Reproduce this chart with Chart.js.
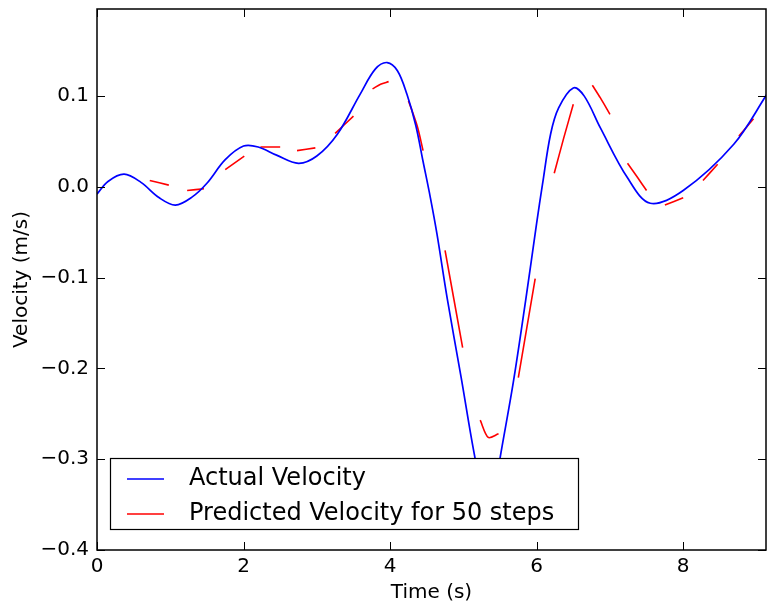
<!DOCTYPE html>
<html>
<head>
<meta charset="utf-8">
<script src="https://cdn.jsdelivr.net/npm/chart.js@4.4.1/dist/chart.umd.min.js"></script>
<style>
  html, body { margin: 0; padding: 0; background: #fff; }
  #wrap { width: 767px; height: 605px; position: relative; }
</style>
</head>
<body>
<div id="wrap"><canvas id="c" width="767" height="605"></canvas></div>
<script>
// ---- data ----
const actualTime = [0, 0.15, 0.37, 0.6, 0.85, 1.07, 1.3, 1.5, 1.75, 2.0, 2.2, 2.45, 2.75, 3.0, 3.28, 3.59, 3.8, 3.96, 4.1, 4.23, 4.35, 4.45, 4.55, 4.64, 4.78, 4.97, 5.16, 5.27, 5.35, 5.43, 5.5, 5.68, 5.85, 6.0, 6.08, 6.19, 6.3, 6.5, 6.65, 6.87, 7.24, 7.55, 8.0, 8.69, 9.15];
const actualVelocity = [-0.008, 0.006, 0.014, 0.005, -0.012, -0.020, -0.011, 0.004, 0.030, 0.045, 0.044, 0.035, 0.026, 0.034, 0.058, 0.102, 0.130, 0.137, 0.128, 0.102, 0.068, 0.028, -0.012, -0.052, -0.123, -0.210, -0.299, -0.335, -0.345, -0.335, -0.299, -0.216, -0.125, -0.040, 0.003, 0.058, 0.087, 0.109, 0.100, 0.065, 0.010, -0.018, -0.004, 0.047, 0.103];

// predicted: null values mark the gaps between predicted segments
const predictedTime = [0.72, 0.98, 1.1, 1.23, 1.46, 1.6, 1.75, 2.01, 2.12, 2.23, 2.50, 2.6, 2.73, 2.98, 3.1, 3.25, 3.50, 3.6, 3.76, 3.87, 3.98, 4.1, 4.25, 4.37, 4.45, 4.6, 4.75, 4.99, 5.1, 5.23, 5.34, 5.48, 5.6, 5.75, 5.98, 6.1, 6.24, 6.37, 6.50, 6.6, 6.76, 6.87, 7.00, 7.1, 7.24, 7.38, 7.50, 7.6, 7.75, 8.00, 8.1, 8.27, 8.47, 8.6, 8.76, 8.96];
const predictedVelocity = [0.007, 0.002, null, -0.004, -0.002, null, 0.019, 0.034, null, 0.044, 0.044, null, 0.040, 0.043, null, 0.059, 0.078, null, 0.108, 0.113, 0.116, null, 0.095, 0.067, 0.040, null, -0.070, -0.177, null, -0.257, -0.276, -0.272, null, -0.210, -0.101, null, 0.015, 0.054, 0.091, null, 0.112, 0.098, 0.080, null, 0.026, 0.010, -0.004, null, -0.020, -0.012, null, 0.007, 0.025, null, 0.056, 0.075];

const xTicks = [0, 2, 4, 6, 8];
const yTicks = [-0.4, -0.3, -0.2, -0.1, 0.0, 0.1];
const seriesLabels = ['Actual Velocity', 'Predicted Velocity for 50 steps'];
const xTitle = 'Time (s)';
const yTitle = 'Velocity (m/s)';

const toXY = (xs, ys) => xs.map((x, i) => ({ x: x, y: ys[i] }));
const fmtY = v => (v < 0 ? '\u2212' : '') + Math.abs(v).toFixed(1);

Chart.defaults.font.family = '"DejaVu Sans", sans-serif';
Chart.defaults.color = '#000';

const framePlugin = {
  id: 'frameAndLegend',
  afterDatasetsDraw(chart) {
    const { ctx, chartArea: a, scales } = chart;
    const xs = scales.x, ys = scales.y;
    ctx.save();
    // legend box (inside plot, lower left)
    const lx = 110, ly = 458, lw = 468, lh = 71;
    ctx.fillStyle = '#fff';
    ctx.fillRect(lx, ly, lw, lh);
    ctx.strokeStyle = '#000';
    ctx.lineWidth = 1.2;
    ctx.strokeRect(lx + 0.5, ly + 0.5, lw, lh);
    const rows = [
      { y: 479, color: chart.data.datasets[0].borderColor, text: chart.data.datasets[0].label },
      { y: 514, color: chart.data.datasets[1].borderColor, text: chart.data.datasets[1].label }
    ];
    ctx.font = '24px "DejaVu Sans", sans-serif';
    ctx.textBaseline = 'middle';
    ctx.textAlign = 'left';
    rows.forEach(r => {
      ctx.strokeStyle = r.color;
      ctx.lineWidth = 1.6;
      ctx.beginPath();
      ctx.moveTo(127, r.y);
      ctx.lineTo(164, r.y);
      ctx.stroke();
      ctx.fillStyle = '#000';
      ctx.fillText(r.text, 189, r.y);
    });
    // plot frame
    ctx.strokeStyle = '#000';
    ctx.lineWidth = 1.5;
    ctx.strokeRect(a.left, a.top, a.right - a.left, a.bottom - a.top);
    // inward tick marks on all four sides
    const tl = 8;
    ctx.lineWidth = 1;
    ctx.beginPath();
    xTicks.forEach(v => {
      const px = Math.round(xs.getPixelForValue(v)) + 0.5;
      if (px < a.left - 1 || px > a.right + 1) return;
      ctx.moveTo(px, a.bottom); ctx.lineTo(px, a.bottom - tl);
      ctx.moveTo(px, a.top); ctx.lineTo(px, a.top + tl);
    });
    yTicks.forEach(v => {
      const py = Math.round(ys.getPixelForValue(v)) + 0.5;
      ctx.moveTo(a.left, py); ctx.lineTo(a.left + tl, py);
      ctx.moveTo(a.right, py); ctx.lineTo(a.right - tl, py);
    });
    ctx.stroke();
    ctx.restore();
  }
};

new Chart(document.getElementById('c'), {
  type: 'line',
  data: {
    datasets: [
      {
        label: seriesLabels[0],
        data: toXY(actualTime, actualVelocity),
        borderColor: '#0000ff',
        borderWidth: 1.7,
        pointRadius: 0,
        tension: 0.35,
        fill: false
      },
      {
        label: seriesLabels[1],
        data: toXY(predictedTime, predictedVelocity),
        borderColor: '#ff0000',
        borderWidth: 1.6,
        pointRadius: 0,
        spanGaps: false,
        tension: 0.3,
        fill: false
      }
    ]
  },
  options: {
    responsive: false,
    animation: false,
    devicePixelRatio: 1,
    layout: { padding: { top: 9, right: 1, left: 0, bottom: 0 } },
    plugins: { legend: { display: false }, tooltip: { enabled: false } },
    scales: {
      x: {
        type: 'linear',
        min: 0,
        max: 9.13,
        afterBuildTicks: s => { s.ticks = xTicks.map(v => ({ value: v })); },
        afterFit: s => { s.height = 55; s.paddingLeft = 0; s.paddingRight = 0; },
        grid: { display: false, drawTicks: false },
        border: { display: false },
        ticks: { font: { size: 20 }, padding: 5, maxRotation: 0, autoSkip: false, callback: v => String(v) },
        title: { display: true, text: xTitle, font: { size: 20 }, padding: { top: 0, bottom: 0 } }
      },
      y: {
        type: 'linear',
        min: -0.4,
        max: 0.196,
        afterBuildTicks: s => { s.ticks = yTicks.map(v => ({ value: v })); },
        afterFit: s => { s.width = 97; s.paddingTop = 0; s.paddingBottom = 0; },
        grid: { display: false, drawTicks: false },
        border: { display: false },
        ticks: { font: { size: 20 }, padding: 8, autoSkip: false, callback: v => fmtY(v) },
        title: { display: true, text: yTitle, font: { size: 20 }, padding: { top: 10, bottom: 0 } }
      }
    }
  },
  plugins: [framePlugin]
});
</script>
</body>
</html>
